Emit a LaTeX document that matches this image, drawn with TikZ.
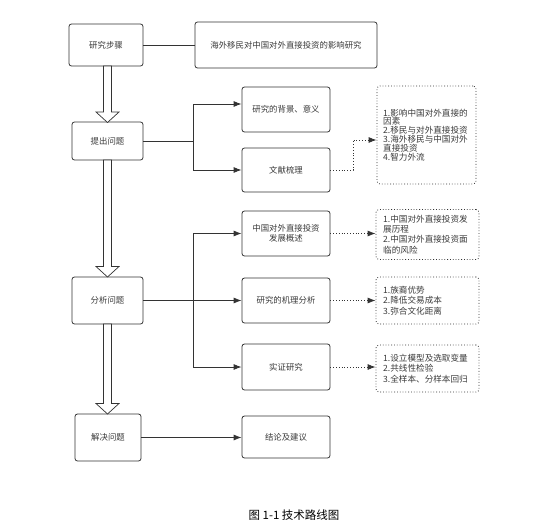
\documentclass[tikz,border=0pt]{standalone}
\usepackage{fontspec}
\setmainfont{Noto Sans CJK SC}
\newfontfamily\cjk{Noto Sans CJK SC}
\usetikzlibrary{arrows.meta}
\definecolor{ink}{HTML}{333333}
\definecolor{txt}{HTML}{3A3A3A}
\begin{document}
\begin{tikzpicture}[x=1pt,y=-1pt,
  box/.style={draw=ink,line width=0.8pt,rounded corners=2.5pt,fill=white,
    inner sep=0pt,align=center,text=txt,font=\cjk\fontsize{8.4}{10}\selectfont},
  note/.style={draw=ink,line width=0.8pt,dotted,rounded corners=3pt,
    inner sep=0pt,text=txt},
  notetext/.style={align=left,text=txt,inner sep=0pt,anchor=west},
  conn/.style={draw=ink,line width=0.8pt},
  arr/.style={conn,-{Latex[length=8pt,width=6pt]}},
  darr/.style={draw=ink,line width=0.8pt,dotted,-{Latex[length=8pt,width=6pt]}},
  hollow/.style={draw=ink,line width=0.7pt,fill=white}
]
\useasboundingbox (0,0) rectangle (553,530);

% left column
\node[box,minimum width=74pt,minimum height=42pt] (s1) at (106,45) {研究步骤};
\node[box,minimum width=182pt,minimum height=46pt] (t) at (286,45) {海外移民对中国对外直接投资的影响研究};
\node[box,minimum width=71pt,minimum height=38pt] (s2) at (107.5,141) {提出问题};
\node[box,minimum width=71pt,minimum height=47pt] (s3) at (107.5,300.5) {分析问题};
\node[box,minimum width=66pt,minimum height=47pt] (s4) at (108,437.5) {解决问题};

% middle column
\node[box,minimum width=88pt,minimum height=45pt] (b1) at (286,109.5) {研究的背景、意义};
\node[box,minimum width=88pt,minimum height=44pt] (b2) at (286,170) {文献梳理};
\node[box,minimum width=88pt,minimum height=45pt] (c1) at (286,233.5) {中国对外直接投资\\发展概述};
\node[box,minimum width=88pt,minimum height=45pt] (c2) at (286,300.5) {研究的机理分析};
\node[box,minimum width=88pt,minimum height=46pt] (c3) at (286,367) {实证研究};
\node[box,minimum width=88pt,minimum height=42pt] (f) at (286,437) {结论及建议};

% right dotted notes
\node[note,minimum width=99pt,minimum height=98pt] (d1) at (426.5,135) {};
\node[notetext,font=\cjk\fontsize{8.6}{8.9}\selectfont] (d1t) at (383,135) {1.影响中国对外直接的\\因素\\2.移民与对外直接投资\\3.海外移民与中国对外\\直接投资\\4.智力外流};
\node[note,minimum width=103pt,minimum height=50pt] (e1) at (427.5,234.5) {};
\node[notetext,font=\cjk\fontsize{8.6}{10.3}\selectfont] (e1t) at (383,234.5) {1.中国对外直接投资发\\展历程\\2.中国对外直接投资面\\临的风险};
\node[note,minimum width=103pt,minimum height=47pt] (e2) at (427.5,300.5) {};
\node[notetext,font=\cjk\fontsize{8.6}{10.5}\selectfont] (e2t) at (383,300.5) {1.族裔优势\\2.降低交易成本\\3.弥合文化距离};
\node[note,minimum width=103pt,minimum height=47pt] (e3) at (427.5,368.5) {};
\node[notetext,font=\cjk\fontsize{8.6}{10.5}\selectfont] (e3t) at (383,368.5) {1.设立模型及选取变量\\2.共线性检验\\3.全样本、分样本回归};

% caption
\node[font=\cjk\fontsize{11.5}{13}\selectfont,text=black,inner sep=0pt] (cap) at (294,515) {图 1-1 技术路线图};

% connectors
\draw[conn] (s1.east) -- (t.west);

\coordinate (j1) at (193,141);
\draw[conn] (s2.east) -- (j1);
\draw[arr] (193,104) -- (b1.west |- 0,104);
\draw[conn] (193,104) -- (193,170);
\draw[arr] (193,170) -- (b2.west);

\coordinate (j2) at (193,300.5);
\draw[arr] (s3.east) -- (c2.west);
\draw[conn] (193,233.5) -- (193,367);
\draw[arr] (193,233.5) -- (c1.west);
\draw[arr] (193,367) -- (c3.west);

\draw[arr] (s4.east) -- (s4.east -| f.west);

\draw[darr] (b2.east) -- (353,170) -- (353,140) -- (d1.west |- 0,140);
\draw[darr] (c1.east) -- (e1.west |- c1.east);
\draw[darr] (c2.east) -- (e2.west);
\draw[darr] (c3.east) -- (e3.west |- c3.east);

% hollow arrows
\draw[hollow] (103.5,66) -- (111.5,66) -- (111.5,112) -- (119,112) -- (107.5,122.5) -- (96,112) -- (103.5,112) -- cycle;
\draw[hollow] (103.5,160) -- (111.5,160) -- (111.5,266.5) -- (119,266.5) -- (107.5,277) -- (96,266.5) -- (103.5,266.5) -- cycle;
\draw[hollow] (103.5,324) -- (111.5,324) -- (111.5,403.5) -- (119,403.5) -- (107.5,414) -- (96,403.5) -- (103.5,403.5) -- cycle;
\end{tikzpicture}
\end{document}
